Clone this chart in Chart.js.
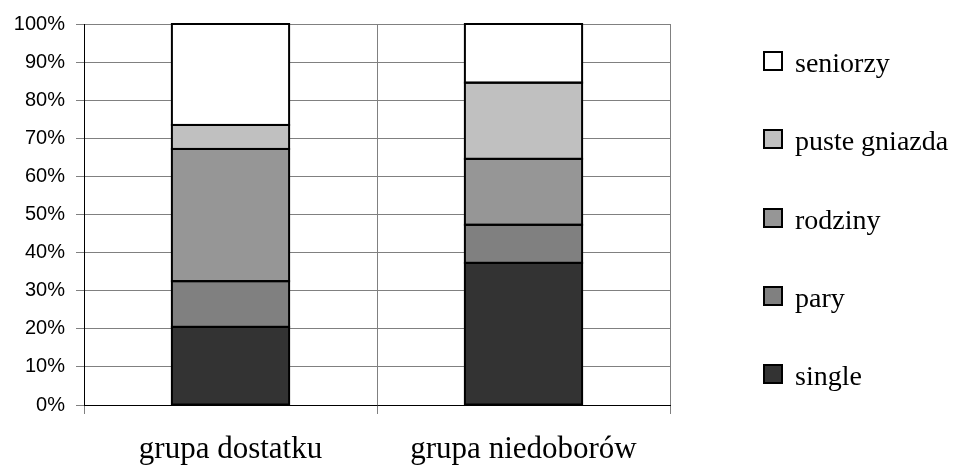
<!DOCTYPE html>
<html>
<head>
<meta charset="utf-8">
<script src="https://cdn.jsdelivr.net/npm/chart.js@4/dist/chart.umd.min.js"></script>
<style>
  html, body { margin: 0; padding: 0; background: #ffffff; }
  #wrap { width: 957px; height: 471px; position: relative; }
</style>
</head>
<body>
<div id="wrap"><canvas id="c" width="957" height="471"></canvas></div>
<script>
// ---- data ----
const categories = ['grupa dostatku', 'grupa niedoborów'];
const seriesNames = ['single', 'pary', 'rodziny', 'puste gniazda', 'seniorzy'];
const single = [20.5, 37.3];
const pary = [12.0, 10.0];
const rodziny = [34.7, 17.3];
const pusteGniazda = [6.3, 20.0];
const seniorzy = [26.5, 15.4];
const yTicks = [0, 10, 20, 30, 40, 50, 60, 70, 80, 90, 100];

const seriesValues = [single, pary, rodziny, pusteGniazda, seniorzy];
const seriesColors = ['#333333', '#808080', '#969696', '#c0c0c0', '#ffffff'];

const datasets = seriesNames.map((name, i) => ({
  label: name,
  data: seriesValues[i],
  backgroundColor: seriesColors[i],
  borderWidth: 0,
  inflateAmount: 0,
  barPercentage: 0.4,
  categoryPercentage: 1.0
}));

// outline every bar segment using the element geometry computed by Chart.js
const barOutline = {
  id: 'barOutline',
  afterDatasetsDraw(chart) {
    const ctx = chart.ctx;
    ctx.save();
    ctx.strokeStyle = '#000';
    ctx.lineWidth = 2;
    chart.data.datasets.forEach((d, i) => {
      chart.getDatasetMeta(i).data.forEach(el => {
        const p = el.getProps(['x', 'y', 'base', 'width'], true);
        const left = p.x - p.width / 2;
        const top = Math.min(p.y, p.base);
        const h = Math.abs(p.base - p.y);
        ctx.strokeRect(left, top, p.width, h);
      });
    });
    ctx.restore();
  }
};

const customLegend = {
  id: 'customLegend',
  afterDraw(chart) {
    const ctx = chart.ctx;
    const ds = chart.data.datasets;
    const n = ds.length;
    ctx.save();
    ctx.font = '28px "Liberation Serif", "Times New Roman", serif';
    ctx.textBaseline = 'alphabetic';
    ctx.textAlign = 'left';
    for (let k = 0; k < n; k++) {
      const d = ds[n - 1 - k];
      const cy = 61 + 78.25 * k;
      const size = 18;
      const x = 764, y = Math.round(cy - size / 2);
      ctx.fillStyle = d.backgroundColor;
      ctx.fillRect(x, y, size, size);
      ctx.lineWidth = 2;
      ctx.strokeStyle = '#000';
      ctx.strokeRect(x, y, size, size);
      ctx.fillStyle = '#000';
      ctx.fillText(d.label, 795, y + size + 2);
    }
    ctx.restore();
  }
};

new Chart(document.getElementById('c'), {
  type: 'bar',
  data: { labels: categories, datasets },
  options: {
    responsive: false,
    devicePixelRatio: 1,
    animation: false,
    layout: { padding: { left: 0, top: 24, right: 287, bottom: 0 } },
    plugins: { legend: { display: false }, tooltip: { enabled: false } },
    scales: {
      x: {
        stacked: true,
        grid: { offset: true, color: '#808080', lineWidth: 1, tickLength: 9, drawTicks: true },
        border: { display: true, color: '#000000', width: 1 },
        ticks: {
          color: '#000',
          font: { family: '"Liberation Serif", "Times New Roman", serif', size: 31 },
          padding: 17,
          maxRotation: 0
        },
        afterFit(scale) { scale.height = 66; }
      },
      y: {
        stacked: true,
        min: 0,
        max: 100,
        afterBuildTicks(scale) { scale.ticks = yTicks.map(v => ({ value: v })); },
        grid: { color: '#808080', lineWidth: 1, tickLength: 8 },
        border: { display: true, color: '#000000', width: 1 },
        ticks: {
          color: '#000',
          font: { family: '"Liberation Sans", Arial, sans-serif', size: 20 },
          padding: 11,
          callback: v => v + '%'
        },
        afterFit(scale) { scale.width = 84; }
      }
    }
  },
  plugins: [barOutline, customLegend]
});
</script>
</body>
</html>
